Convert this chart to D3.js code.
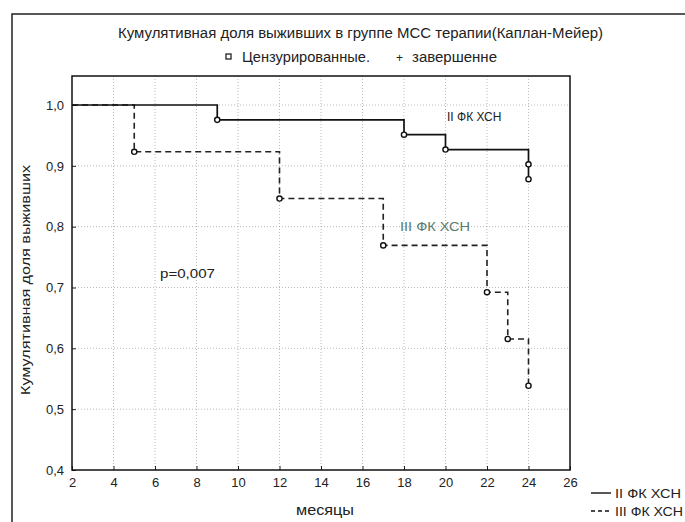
<!DOCTYPE html>
<html><head><meta charset="utf-8">
<script src="https://cdn.jsdelivr.net/npm/d3@7"></script>
<style>body{margin:0;background:#fff}svg{display:block}text{font-family:"Liberation Sans",Arial,sans-serif;fill:#222}</style>
</head><body><svg id="c" width="685" height="522"></svg>
<script>
const xTicks = [2,4,6,8,10,12,14,16,18,20,22,24,26];
const yTicks = [0.4,0.5,0.6,0.7,0.8,0.9,1.0];
// Kaplan-Meier steps: [month, survival after event]
const seriesII_t = [2, 9, 18, 20, 24, 24];
const seriesII_s = [1.0, 0.9756, 0.9512, 0.9268, 0.9024, 0.8780];
const seriesIII_t = [2, 5, 12, 17, 22, 23, 24];
const seriesIII_s = [1.0, 0.9231, 0.8462, 0.7692, 0.6923, 0.6154, 0.5385];
const seriesNames = ["II ФК ХСН", "III ФК ХСН"];

const svg = d3.select("#c");
const m = {l:72, r:570, t:76, b:470};
const x = d3.scaleLinear().domain([2,26]).range([m.l,m.r]);
const y = d3.scaleLinear().domain([0.4,1.0]).range([m.b,105]);

// outer frame
svg.append("path").attr("d","M12,530 L12,14 L700,14").attr("fill","none").attr("stroke","#222").attr("stroke-width",1.5);

// grid
const g = svg.append("g");
g.selectAll(".vg").data(xTicks.slice(1,-1)).join("line")
 .attr("x1",d=>x(d)).attr("x2",d=>x(d)).attr("y1",m.t).attr("y2",m.b)
 .attr("stroke","#aaa").attr("stroke-width",0.8).attr("stroke-dasharray","1,2");
g.selectAll(".hg").data(yTicks.slice(1)).join("line")
 .attr("x1",m.l).attr("x2",m.r).attr("y1",d=>y(d)).attr("y2",d=>y(d))
 .attr("stroke","#aaa").attr("stroke-width",0.8).attr("stroke-dasharray","1,2");

// axes
const fmt = d=>d3.format(".1f")(d).replace(".",",");
const ax = svg.append("g").attr("transform",`translate(0,${m.b})`)
 .call(d3.axisBottom(x).tickValues(xTicks).tickSize(-4).tickPadding(8));
const ay = svg.append("g").attr("transform",`translate(${m.l},0)`)
 .call(d3.axisLeft(y).tickValues(yTicks).tickFormat(fmt).tickSize(-4).tickPadding(8));
[ax,ay].forEach(a=>{a.select(".domain").remove();a.selectAll("line").attr("stroke","#222");
 a.selectAll("text").attr("font-size",13).attr("fill","#333").style("font-family","'Liberation Sans',Arial,sans-serif");});
svg.append("rect").attr("x",m.l).attr("y",m.t).attr("width",m.r-m.l).attr("height",m.b-m.t)
 .attr("fill","none").attr("stroke","#111").attr("stroke-width",1.5);

// steps
function stepPts(ts, ss){
  const pts=[[ts[0],ss[0]]];
  for(let i=1;i<ts.length;i++){pts.push([ts[i],ss[i-1]]);pts.push([ts[i],ss[i]]);}
  return pts;
}
const line = d3.line().x(d=>x(d[0])).y(d=>y(d[1]));
svg.append("path").attr("d",line(stepPts(seriesIII_t,seriesIII_s))).attr("fill","none")
 .attr("stroke","#222").attr("stroke-width",1.6).attr("stroke-dasharray","6,4");
svg.append("path").attr("d",line(stepPts(seriesII_t,seriesII_s))).attr("fill","none")
 .attr("stroke","#111").attr("stroke-width",1.7);
[[seriesII_t,seriesII_s],[seriesIII_t,seriesIII_s]].forEach(([ts,ss])=>{
  svg.append("g").selectAll("circle").data(ts.slice(1).map((t,i)=>[t,ss[i+1]])).join("circle")
   .attr("cx",d=>x(d[0])).attr("cy",d=>y(d[1])).attr("r",2.6)
   .attr("fill","#fff").attr("stroke","#111").attr("stroke-width",1.4);
});

// titles and labels
function txt(xx,yy,s,fs,len,anchor){
  const t=svg.append("text").attr("x",xx).attr("y",yy).attr("font-size",fs).text(s);
  if(len) t.attr("textLength",len).attr("lengthAdjust","spacingAndGlyphs");
  if(anchor) t.attr("text-anchor",anchor);
  return t;
}
txt(118,38,"Кумулятивная доля выживших в группе МСС терапии(Каплан-Мейер)",14,485);
svg.append("rect").attr("x",226).attr("y",54).attr("width",5).attr("height",5).attr("fill","none").attr("stroke","#222").attr("stroke-width",1.3);
txt(242,62,"Цензурированные.",14,128);
txt(396,62,"+",12);
txt(412,62,"завершенне",14,85);

txt(447,121,seriesNames[0],12);
txt(400,231,seriesNames[1],12.5,70).style("fill","#5a7a6a");
txt(160,278,"p=0,007",13,55);

txt(296,515,"месяцы",14,58);
svg.append("text").attr("transform","translate(30,395) rotate(-90)").attr("font-size",13)
 .attr("textLength",230).attr("lengthAdjust","spacingAndGlyphs")
 .text("Кумулятивная доля выживших");

// legend
const lg = svg.append("g");
seriesNames.forEach((n,i)=>{
  const yy = 493 + i*18;
  lg.append("line").attr("x1",591).attr("x2",611).attr("y1",yy).attr("y2",yy).attr("stroke","#111")
   .attr("stroke-width",1.4).attr("stroke-dasharray",i?"4,3":null);
  lg.append("text").attr("x",615).attr("y",yy+5).attr("font-size",13).attr("textLength",i?68:66)
   .attr("lengthAdjust","spacingAndGlyphs").text(n);
});
</script></body></html>
